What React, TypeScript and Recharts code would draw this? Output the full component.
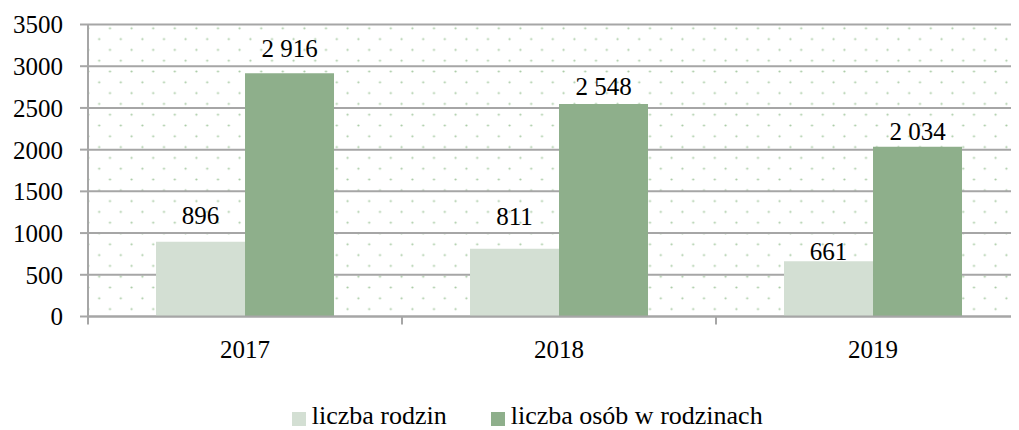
import React from "react";
import { BarChart, Bar, XAxis, YAxis, CartesianGrid, Legend, LabelList } from "recharts";

const years = ["2017", "2018", "2019"];
const liczbaRodzin = [896, 811, 661];
const liczbaOsob = [2916, 2548, 2034];
const yTicks = [0, 500, 1000, 1500, 2000, 2500, 3000, 3500];
const seriesNames = ["liczba rodzin", "liczba osób w rodzinach"];

// label baseline distance above bar top (layout only)
const rodzinyLabelGap = [18, 24, 1];
const osobyLabelGap = [16.5, 9, 7];

const data = years.map((y, i) => ({ year: y, rodziny: liczbaRodzin[i], osoby: liczbaOsob[i] }));

const FONT = '"Liberation Serif", "Times New Roman", serif';
const GRID = "#a6a6a6";
const LIGHT = "#d3dfd3";
const DARK = "#8eaf8b";

const fmt = (v: number) =>
  v >= 1000 ? `${Math.floor(v / 1000)} ${String(v % 1000).padStart(3, "0")}` : String(v);

const makeLabel = (gaps: number[]) => (props: any) => {
  const { x, y, width, value, index } = props;
  return (
    <text
      x={Number(x) + Number(width) / 2}
      y={Number(y) - gaps[index]}
      textAnchor="middle"
      fontSize={25}
      fontFamily={FONT}
      fill="#000"
    >
      {fmt(Number(value))}
    </text>
  );
};

const XTick = (props: any) => {
  const { x, y, payload, width } = props;
  const bw = width ? width / years.length : 314;
  return (
    <g>
      <line x1={x - bw / 2} x2={x - bw / 2} y1={y} y2={y + 8} stroke={GRID} strokeWidth={2} />
      <text x={x} y={y + 41.5} textAnchor="middle" fontSize={25} fontFamily={FONT} fill="#000">
        {payload.value}
      </text>
    </g>
  );
};

const LegendContent = () => (
  <div style={{ display: "flex", alignItems: "center", height: 22, fontFamily: FONT, fontSize: 26, lineHeight: "22px", color: "#000", whiteSpace: "nowrap" }}>
    <span style={{ width: 14, height: 14, background: LIGHT, display: "inline-block", marginRight: 6, marginTop: 5 }} />
    <span style={{ marginRight: 44 }}>{seriesNames[0]}</span>
    <span style={{ width: 14, height: 14, background: DARK, display: "inline-block", marginRight: 6, marginTop: 5 }} />
    <span>{seriesNames[1]}</span>
  </div>
);

export default function App() {
  return (
    <div style={{ width: 1011, height: 422, overflow: "hidden" }}>
      <BarChart
        width={1022}
        height={420}
        data={data}
        margin={{ top: 16.5, right: 0, bottom: 39.5, left: 0 }}
        barCategoryGap="21.66%"
        barGap={0}
      >
        <defs>
          <pattern id="dots" patternUnits="userSpaceOnUse" x={96.6} y={14.9} width={21.6} height={21.6}>
            <circle cx={5.4} cy={5.4} r={1.1} fill="#a9cba4" />
            <circle cx={16.2} cy={16.2} r={1.1} fill="#a9cba4" />
          </pattern>
        </defs>
        <CartesianGrid vertical={false} stroke={GRID} strokeWidth={2} fill="url(#dots)" fillOpacity={1} />
        <XAxis
          dataKey="year"
          height={50}
          tickSize={0}
          tickMargin={0}
          tickLine={false}
          axisLine={{ stroke: GRID, strokeWidth: 2 }}
          tick={<XTick />}
          interval={0}
        />
        <YAxis
          width={80}
          domain={[0, 3500]}
          ticks={yTicks}
          interval={0}
          tickSize={8}
          tickMargin={17}
          axisLine={{ stroke: GRID, strokeWidth: 2 }}
          tickLine={{ stroke: GRID, strokeWidth: 2 }}
          tick={{ fontSize: 25, fontFamily: FONT, fill: "#000" }}
        />
        <Legend
          verticalAlign="bottom"
          content={<LegendContent />}
          wrapperStyle={{ left: 283.7, top: 397, width: "auto", height: 22 }}
        />
        <Bar dataKey="rodziny" name={seriesNames[0]} fill={LIGHT} isAnimationActive={false}>
          <LabelList dataKey="rodziny" content={makeLabel(rodzinyLabelGap)} />
        </Bar>
        <Bar dataKey="osoby" name={seriesNames[1]} fill={DARK} isAnimationActive={false}>
          <LabelList dataKey="osoby" content={makeLabel(osobyLabelGap)} />
        </Bar>
      </BarChart>
    </div>
  );
}
